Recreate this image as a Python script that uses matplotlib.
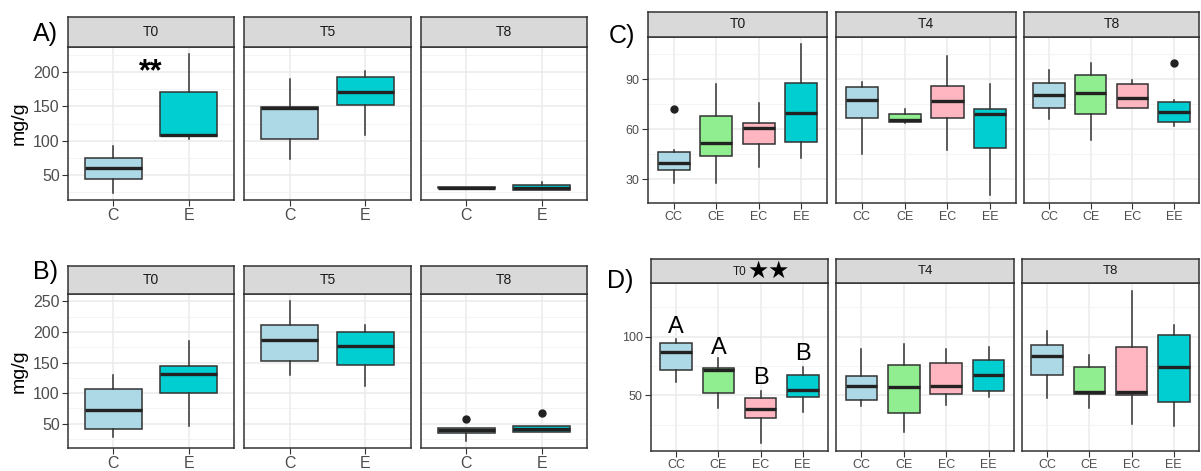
import matplotlib.pyplot as plt
from matplotlib.ticker import MultipleLocator

plt.rcParams['font.family'] = ['Liberation Sans', 'DejaVu Sans']

# ---- data: (whisker low, Q1, median, Q3, whisker high) per box ----
groups2 = ['C', 'E']
groups4 = ['CC', 'CE', 'EC', 'EE']
facets_ab = ['T0', 'T5', 'T8']
facets_cd = ['T0', 'T4', 'T8']

a_stats = [
    [(24, 44, 60, 75, 92), (103, 107, 109, 171, 226)],
    [(74, 103, 147, 149, 189), (108, 152, 170, 192, 201)],
    [(31, 31, 32, 33, 33), (28, 28, 31.6, 35.7, 40)],
]
a_out = [[[], []], [[], []], [[], []]]

b_stats = [
    [(29, 41, 73, 106, 129), (46, 101, 131, 145, 185)],
    [(130, 153, 187, 212, 250), (112, 146, 177, 200, 211)],
    [(22, 35, 40, 43, 43), (37, 37, 41, 46, 46)],
]
b_out = [[[], []], [[], []], [[58], [67]]]

c_stats = [
    [(28, 35.4, 40, 46.4, 47.8), (28, 43.8, 52, 68, 87.4),
     (37.4, 51.4, 61, 64, 75.8), (42.8, 52.6, 69.8, 88, 111)],
    [(45.4, 67, 77.4, 85.4, 88.4), (64, 64.2, 65.4, 69, 72.4),
     (47.8, 67, 77, 86, 104), (20.4, 49, 69, 72, 87)],
    [(66, 73, 80.8, 88, 95.4), (53.4, 69, 81.8, 92.4, 99.8),
     (73, 73, 79, 87.4, 89.4), (61.8, 64.4, 70.4, 76.4, 77.4)],
]
c_out = [[[72.4], [], [], []], [[], [], [], []], [[], [], [], [99.8]]]

d_stats = [
    [(61.6, 71.3, 86.7, 94.6, 97.8), (38.9, 51.7, 71.5, 73.2, 81.5),
     (9.6, 31, 38.6, 48, 53.7), (36, 48.3, 54.5, 67, 74)],
    [(41, 46, 58.3, 66.5, 89.3), (18.9, 35.5, 57.3, 76, 93.5),
     (41.7, 51, 58.3, 77.6, 89.5), (48.3, 54, 67, 80, 91.5)],
    [(47.4, 67, 83.8, 93.2, 105), (39.4, 51.4, 52.6, 74, 84.5),
     (25.6, 50.3, 53, 91.5, 139), (23.7, 44.6, 74.5, 101.4, 110)],
]
d_out = [[[], [], [], []], [[], [], [], []], [[], [], [], []]]
d_letters = ['A', 'A', 'B', 'B']
d_letter_y = [108, 90, 65, 85]

fill2 = ['#ADD8E6', '#00CED1']
fill4 = ['#ADD8E6', '#90EE90', '#FFB6C1', '#00CED1']

W, H = 1201, 471
fig = plt.figure(figsize=(W / 100, H / 100), dpi=100)


def px_axes(x0, y0, x1, y1):
    return fig.add_axes([x0 / W, 1 - y1 / H, (x1 - x0) / W, (y1 - y0) / H])


def draw_panel(fx, yplot, ystrip, names, groups, stats, outs, fills,
               ylim, major, fs_tick, ylabel=None):
    axes = []
    for i, ((x0, x1), name) in enumerate(zip(fx, names)):
        ax = px_axes(x0, yplot[0], x1, yplot[1])
        pos = list(range(1, len(groups) + 1))
        bstats = [dict(whislo=s[0], q1=s[1], med=s[2], q3=s[3], whishi=s[4],
                       fliers=f) for s, f in zip(stats[i], outs[i])]
        res = ax.bxp(bstats, positions=pos, widths=0.75, patch_artist=True,
                     showcaps=False,
                     boxprops=dict(edgecolor='#333333', linewidth=1.1),
                     whiskerprops=dict(color='#333333', linewidth=1.1),
                     medianprops=dict(color='#222222', linewidth=2.4),
                     flierprops=dict(marker='o', markerfacecolor='#222222',
                                     markeredgecolor='#222222', markersize=5))
        for patch, c in zip(res['boxes'], fills):
            patch.set_facecolor(c)
        ax.set_xlim(0.4, len(groups) + 0.6)
        ax.set_ylim(*ylim)
        ax.set_xticks(pos)
        ax.set_xticklabels(groups)
        ax.yaxis.set_major_locator(MultipleLocator(major))
        ax.yaxis.set_minor_locator(MultipleLocator(major / 2))
        ax.grid(which='major', color='#EBEBEB', linewidth=1.1)
        ax.grid(which='minor', axis='y', color='#F2F2F2', linewidth=0.6)
        ax.set_axisbelow(True)
        ax.tick_params(which='major', direction='out', length=4,
                       color='#333333', labelcolor='#4D4D4D',
                       labelsize=fs_tick, pad=2)
        ax.tick_params(which='minor', length=0)
        if i > 0:
            ax.tick_params(axis='y', left=False, labelleft=False)
        for sp in ax.spines.values():
            sp.set_color('#333333')
            sp.set_linewidth(1.1)
        if i == 0 and ylabel:
            ax.set_ylabel(ylabel, fontsize=14, labelpad=4)
        st = px_axes(x0, ystrip[0], x1, ystrip[1])
        st.set_facecolor('#D9D9D9')
        st.set_xticks([])
        st.set_yticks([])
        for sp in st.spines.values():
            sp.set_color('#333333')
            sp.set_linewidth(1.1)
        st.set_xlim(0, 1)
        st.set_ylim(0, 1)
        axes.append((ax, st))
    return axes


pa = draw_panel([(68, 234), (244, 411), (421, 587)], (47, 200), (17, 47),
                facets_ab, groups2, a_stats, a_out, fill2, (14, 236), 50,
                11.5, 'mg/g')
pb = draw_panel([(68, 234), (244, 411), (421, 587)], (294, 448), (266, 294),
                facets_ab, groups2, b_stats, b_out, fill2, (10.3, 262), 50,
                11.5, 'mg/g')
pc = draw_panel([(648, 827), (836, 1016), (1024, 1199)], (37, 203), (12, 37),
                facets_cd, groups4, c_stats, c_out, fill4, (15.8, 115.4), 30,
                9)
pd = draw_panel([(651, 828), (836, 1014), (1022, 1199)], (283, 451), (259, 283),
                facets_cd, groups4, d_stats, d_out, fill4, (2.8, 145.5), 50,
                9)

for panel, names in [(pa, facets_ab), (pb, facets_ab), (pc, facets_cd)]:
    for (ax, st), name in zip(panel, names):
        st.text(0.5, 0.5, name, ha='center', va='center', fontsize=10,
                color='#1A1A1A')
for (ax, st), name in zip(pd[1:], facets_cd[1:]):
    st.text(0.5, 0.5, name, ha='center', va='center', fontsize=9.5,
            color='#1A1A1A')
st0 = pd[0][1]
st0.text(0.54, 0.45, 'T0', ha='right', va='center', fontsize=8.5, color='#1A1A1A')
st0.text(0.545, 0.5, '★★', ha='left', va='center', fontsize=17, color='black',
         family=['DejaVu Sans'])

# significance marks
pa[0][0].text(1.5, 200, '**', ha='center', va='center', fontsize=22,
              fontweight='bold', color='black')
for x, lab, y in zip(range(1, 5), d_letters, d_letter_y):
    pd[0][0].text(x, y, lab, ha='center', va='center', fontsize=17,
                  color='black')

# panel letters
fig.text(33 / W, 1 - 34 / H, 'A)', fontsize=18, va='center', ha='left')
fig.text(33 / W, 1 - 272 / H, 'B)', fontsize=18, va='center', ha='left')
fig.text(609 / W, 1 - 36 / H, 'C)', fontsize=18, va='center', ha='left')
fig.text(607 / W, 1 - 281 / H, 'D)', fontsize=18, va='center', ha='left')

fig.savefig('out.png', dpi=100)
